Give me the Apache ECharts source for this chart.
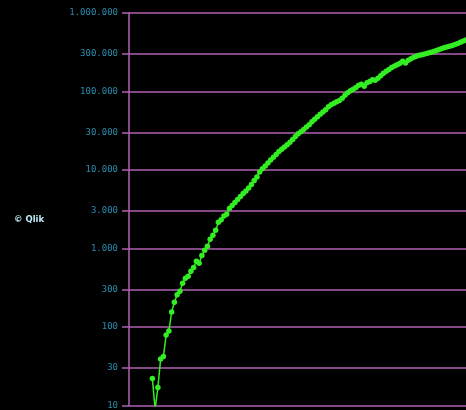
<!DOCTYPE html>
<html><head><meta charset="utf-8">
<script src="https://cdn.jsdelivr.net/npm/echarts@6/dist/echarts.min.js"></script>
<style>html,body{margin:0;padding:0;background:#000}#c{width:466px;height:410px}</style>
</head><body><div id="c"></div>
<script>
const startDay = 9;
const values = [22, 9, 17, 39, 42, 79, 89, 155, 207, 258, 286, 362, 419, 444, 514, 573, 689, 649, 813, 949,
  1066, 1309, 1472, 1703, 2152, 2329, 2588, 2722, 3243, 3540, 3864, 4217, 4600, 5020, 5410, 5900, 6540, 7350, 8140, 9420,
  10350, 11270, 12300, 13430, 14530, 15730, 17180, 18320, 19590, 20950, 22490, 24390, 26620, 28890, 30820, 32870, 35250, 37830, 41300, 44380,
  47750, 51390, 54960, 58620, 63990, 67870, 70940, 74120, 76930, 82040, 89590, 96360, 102100, 107100, 112500, 120000, 123600, 116700, 129100, 133700,
  140900, 138900, 147300, 158500, 170600, 180800, 190100, 201500, 210500, 219900, 228400, 242200, 231500, 249400, 262000, 272200, 280400, 288700, 294500, 301500,
  307600, 313800, 321400, 330800, 340800, 350100, 359600, 368000, 376600, 386500, 398100, 409900, 424800, 438600, 453900];
const tickValues = [10, 30, 100, 300, 1000, 3000, 10000, 30000, 100000, 300000, 1000000];
const fmt = v => String(Math.round(v)).replace(/\B(?=(\d{3})+(?!\d))/g, '.');
const chart = echarts.init(document.getElementById('c'));
chart.setOption({
  backgroundColor: '#000',
  animation: false,
  grid: {left: 129, right: 0, top: 13, bottom: 3},
  graphic: [{type: 'text', left: 14, top: 215, style: {text: '© Qlik', fill: '#bfeaf5', font: 'bold 8.5px "DejaVu Sans"'}}],
  xAxis: {type: 'value', min: 0.5, max: 123, show: false},
  yAxis: {
    type: 'log', logBase: 10, min: 10, max: 1000000,
    axisLine: {show: true, lineStyle: {color: '#b060b0', width: 1.5}},
    axisTick: {show: true, length: 7, customValues: tickValues, lineStyle: {color: '#b060b0', width: 1.5}},
    axisLabel: {customValues: tickValues, color: '#2a8cae', fontFamily: 'DejaVu Sans Mono', fontSize: 9, margin: 11, formatter: fmt},
    splitLine: {show: true, lineStyle: {color: '#b060b0', width: 1.5}}
  },
  series: [{
    type: 'line',
    data: values.map((v, i) => [startDay + i, v]),
    symbol: 'circle', symbolSize: 5.5, showAllSymbol: true,
    itemStyle: {color: '#33ee22'},
    lineStyle: {color: '#33ee22', width: 1.5}
  }]
});
</script></body></html>
